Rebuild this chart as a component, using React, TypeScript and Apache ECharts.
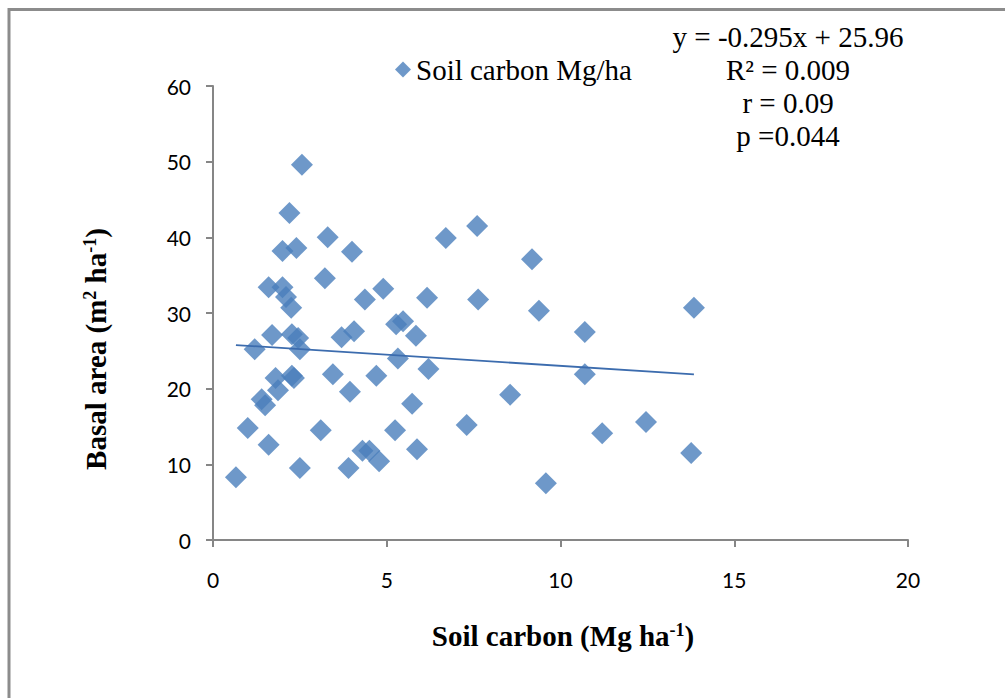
import React, { useEffect, useRef } from "react";
import * as echarts from "echarts";

// Soil carbon (Mg/ha) vs basal area (m²/ha), one point per plot
const soilCarbon = [
  0.66, 1.0, 1.2, 1.4, 1.5, 1.6, 1.6, 1.7, 1.8, 1.87, 2.0, 2.0, 2.1, 2.2, 2.25,
  2.27, 2.27, 2.33, 2.4, 2.45, 2.5, 2.5, 2.56, 3.1, 3.22, 3.3, 3.45, 3.7, 3.9,
  3.94, 4.0, 4.06, 4.3, 4.37, 4.5, 4.7, 4.78, 4.9, 5.24, 5.27, 5.32, 5.47, 5.73,
  5.84, 5.87, 6.16, 6.2, 6.7, 7.3, 7.6, 7.63, 8.55, 9.18, 9.38, 9.58, 10.7, 10.7,
  11.2, 12.46, 13.76, 13.84,
];
const basalArea = [
  8.3, 14.8, 25.2, 18.6, 17.8, 33.4, 12.6, 27.1, 21.4, 19.8, 38.2, 33.4, 32.1,
  43.2, 30.7, 27.2, 21.7, 21.4, 38.6, 26.7, 25.2, 9.5, 49.6, 14.5, 34.6, 40.0,
  21.9, 26.8, 9.5, 19.6, 38.1, 27.6, 11.8, 31.8, 11.8, 21.7, 10.4, 33.2, 14.5,
  28.5, 24.0, 28.9, 18.0, 27.0, 12.0, 32.0, 22.6, 39.9, 15.2, 41.5, 31.8, 19.2,
  37.1, 30.3, 7.5, 27.5, 21.9, 14.1, 15.6, 11.5, 30.7,
];

// Linear fit reported for the data
const slope = -0.295;
const intercept = 25.96;
const statsLines = ["y = -0.295x + 25.96", "R² = 0.009", "r = 0.09", "p =0.044"];

const xTicks = { min: 0, max: 20, interval: 5 };
const yTicks = { min: 0, max: 60, interval: 10 };

const seriesName = "Soil carbon Mg/ha";
const xTitle = "{b|Soil carbon (Mg ha}{sup|-1}{b|)}";
const yTitle = "{b|Basal area (m}{sup|2}{b| ha}{sup|-1}{b|)}";

const markerColor = "#4a7ebb";
const axisGrey = "#868686";

export default function App() {
  const ref = useRef<HTMLDivElement>(null);

  useEffect(() => {
    if (!ref.current) return;
    const chart = echarts.init(ref.current, undefined, { renderer: "svg" });

    const points = soilCarbon.map((x, i) => [x, basalArea[i]]);
    const xLo = Math.min(...soilCarbon);
    const xHi = Math.max(...soilCarbon);
    const fitLine = [
      [xLo, slope * xLo + intercept],
      [xHi, slope * xHi + intercept],
    ];

    const serif = "'Liberation Serif', 'Times New Roman', serif";
    const sans = "Lato, 'Open Sans', sans-serif";

    const titleRich = {
      b: { fontFamily: serif, fontWeight: "bold", fontSize: 29, fill: "#000", color: "#000" },
      sup: {
        fontFamily: serif,
        fontWeight: "bold",
        fontSize: 18,
        fill: "#000",
        color: "#000",
        padding: [0, 0, 12, 0],
      },
    };

    chart.setOption({
      animation: false,
      backgroundColor: "#ffffff",
      grid: { left: 213, right: 97, top: 86, bottom: 158 },
      legend: {
        data: [{ name: seriesName, icon: "diamond" }],
        left: 390,
        top: 50,
        itemWidth: 16,
        itemHeight: 16,
        itemGap: 6,
        textStyle: { fontFamily: serif, fontSize: 29, color: "#000" },
        selectedMode: false,
      },
      xAxis: {
        type: "value",
        ...xTicks,
        splitLine: { show: false },
        axisLine: { show: true, onZero: false, lineStyle: { color: axisGrey, width: 2 } },
        axisTick: { show: true, length: 7, lineStyle: { color: axisGrey, width: 2 } },
        axisLabel: { margin: 29, fontFamily: sans, fontSize: 21, color: "#000" },
      },
      yAxis: {
        type: "value",
        ...yTicks,
        splitLine: { show: false },
        axisLine: { show: true, onZero: false, lineStyle: { color: axisGrey, width: 2 } },
        axisTick: { show: true, length: 7, lineStyle: { color: axisGrey, width: 2 } },
        axisLabel: { margin: 22, fontFamily: sans, fontSize: 21, color: "#000" },
      },
      series: [
        {
          name: seriesName,
          type: "scatter",
          symbol: "diamond",
          symbolSize: 22,
          itemStyle: { color: markerColor },
          data: points,
          z: 2,
        },
        {
          name: "Linear fit",
          type: "line",
          data: fitLine,
          symbol: "none",
          lineStyle: { color: "#3c6cae", width: 1.8 },
          z: 3,
        },
      ],
      graphic: [
        {
          type: "rect",
          shape: { x: 9, y: 9.5, width: 1200, height: 1000 },
          style: { fill: "none", stroke: "#8c8c8c", lineWidth: 3 },
          silent: true,
        },
        ...statsLines.map((line, i) => ({
          type: "text",
          x: 788,
          y: 37 + i * 33,
          style: {
            text: line,
            fontFamily: serif,
            fontSize: 29,
            fill: "#000",
            textAlign: "center",
            textVerticalAlign: "middle",
          },
        })),
        {
          type: "text",
          x: 563,
          y: 636,
          style: {
            text: xTitle,
            rich: titleRich,
            textAlign: "center",
            textVerticalAlign: "middle",
          },
        },
        {
          type: "text",
          x: 96,
          y: 349,
          rotation: Math.PI / 2,
          style: {
            text: yTitle,
            rich: titleRich,
            textAlign: "center",
            textVerticalAlign: "middle",
          },
        },
      ],
    });

    return () => chart.dispose();
  }, []);

  return (
    <div
      ref={ref}
      style={{ position: "absolute", left: 0, top: 0, width: 1005, height: 698 }}
    />
  );
}
